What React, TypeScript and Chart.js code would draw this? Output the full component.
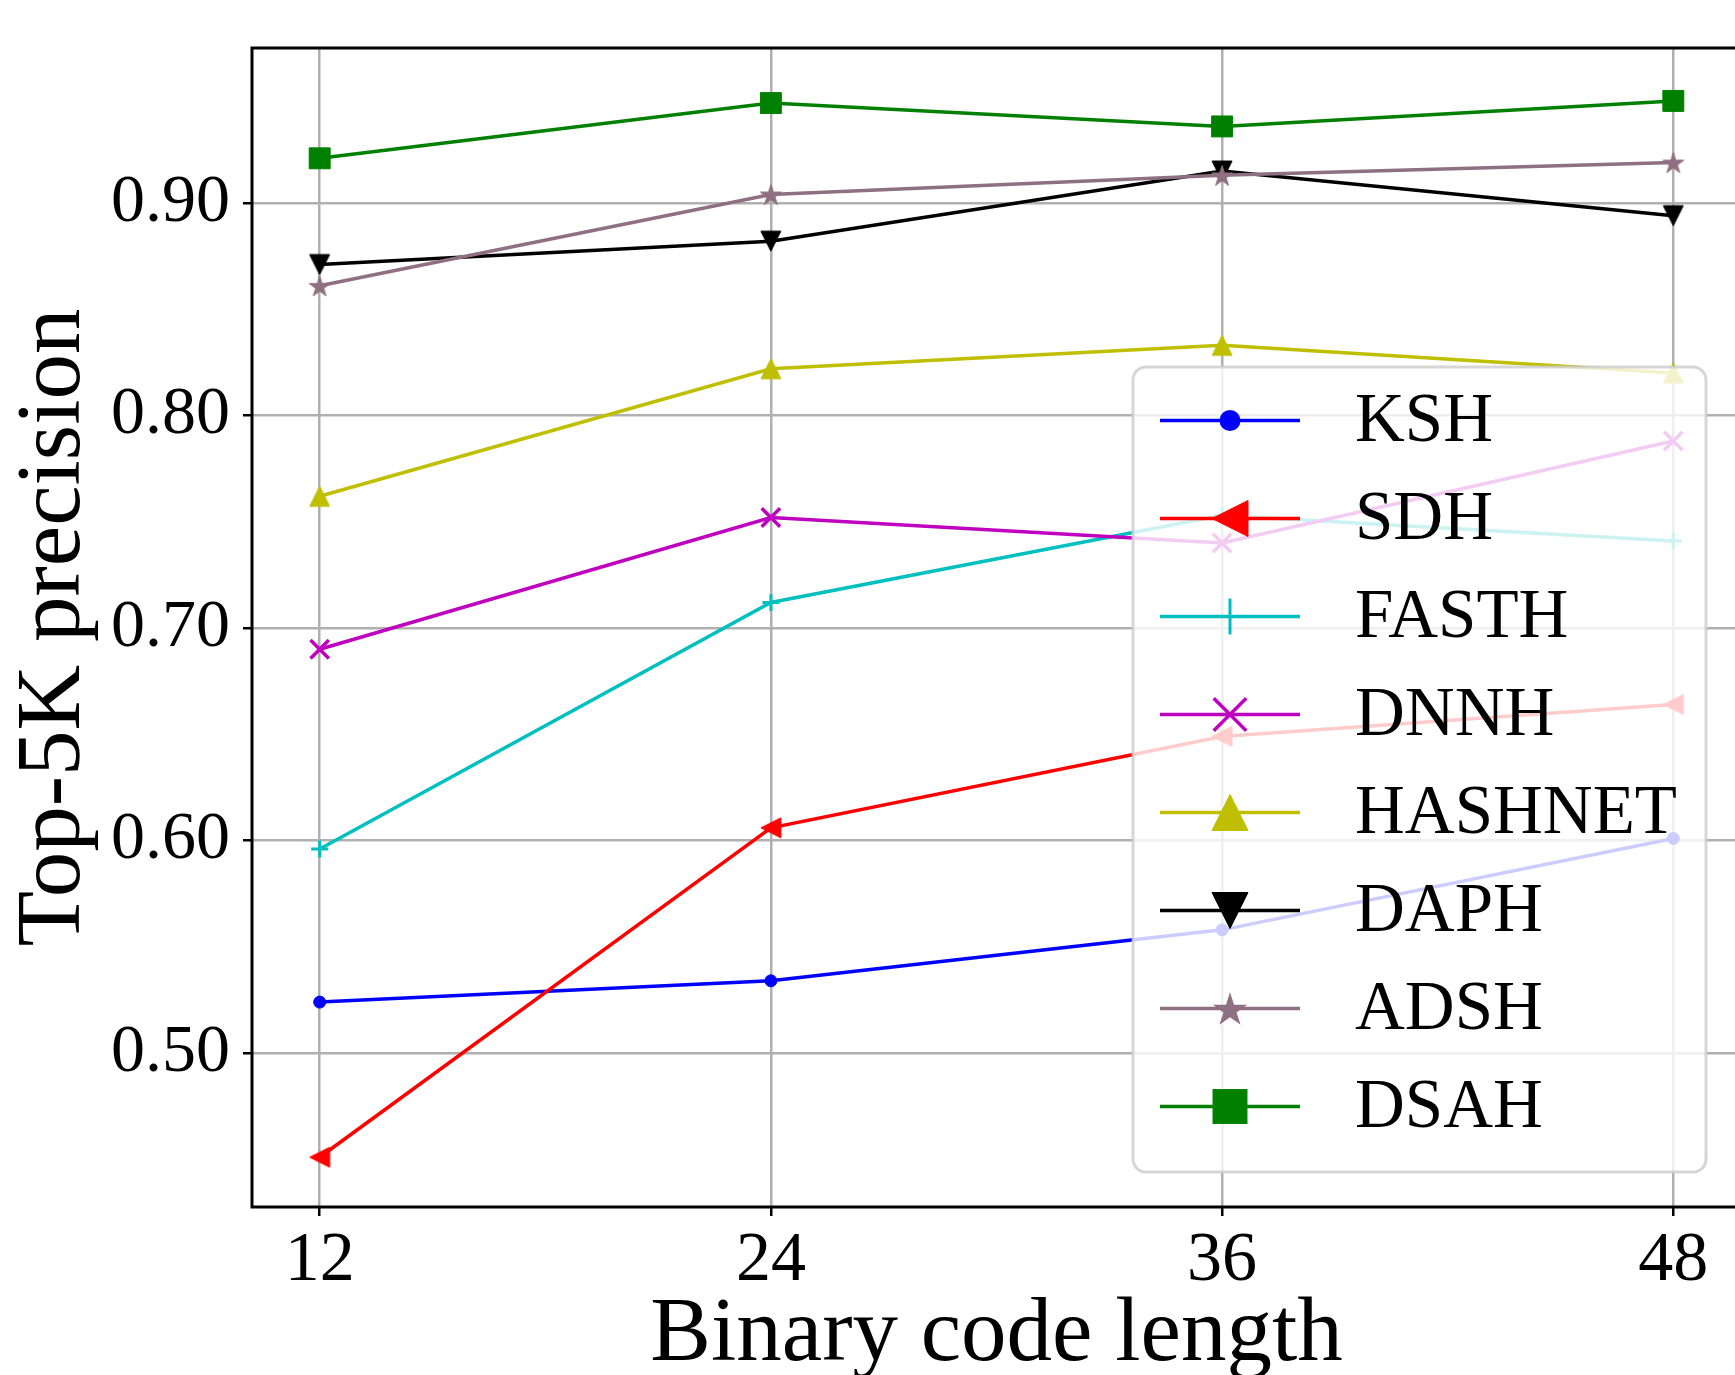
import React, { useEffect, useRef } from 'react';
import { Chart, registerables } from 'chart.js';

Chart.register(...registerables);

// ---- data ----
const codeLengths = [12, 24, 36, 48];
const xTickValues = [12, 24, 36, 48];
const yTickValues = [0.5, 0.6, 0.7, 0.8, 0.9];
const seriesNames = ['KSH', 'SDH', 'FASTH', 'DNNH', 'HASHNET', 'DAPH', 'ADSH', 'DSAH'];
const kshValues = [0.524, 0.534, 0.558, 0.601];
const sdhValues = [0.451, 0.606, 0.649, 0.664];
const fasthValues = [0.596, 0.712, 0.753, 0.741];
const dnnhValues = [0.690, 0.752, 0.740, 0.788];
const hashnetValues = [0.762, 0.822, 0.833, 0.820];
const daphValues = [0.871, 0.882, 0.915, 0.894];
const adshValues = [0.861, 0.904, 0.913, 0.919];
const dsahValues = [0.921, 0.947, 0.936, 0.948];
const seriesValues = [kshValues, sdhValues, fasthValues, dnnhValues, hashnetValues, daphValues, adshValues, dsahValues];

// ---- styles ----
const FONT = "'Liberation Serif', 'Times New Roman', Times, serif";
type Sty = { color: string; style: string; r: number; rot: number; bw: number; legendR: number };
const seriesStyles: Sty[] = [
  { color: '#0000ff', style: 'circle', r: 6, rot: 0, bw: 1, legendR: 10.5 },
  { color: '#ff0000', style: 'tri', r: 10, rot: 270, bw: 1, legendR: 18 },
  { color: '#00bfbf', style: 'cross', r: 8.5, rot: 0, bw: 3, legendR: 18 },
  { color: '#bf00bf', style: 'crossRot', r: 13, rot: 0, bw: 3.5, legendR: 23 },
  { color: '#bfbf00', style: 'tri', r: 10, rot: 0, bw: 1, legendR: 18 },
  { color: '#000000', style: 'tri', r: 10, rot: 180, bw: 1, legendR: 18 },
  { color: '#8f6f82', style: 'star5', r: 11, rot: 0, bw: 1, legendR: 18 },
  { color: '#008000', style: 'rect', r: 14.8, rot: 0, bw: 1, legendR: 24.7 },
];

function starPath(g: CanvasRenderingContext2D, x: number, y: number, R: number) {
  const inner = R * 0.381966;
  g.beginPath();
  for (let k = 0; k < 10; k++) {
    const rr = k % 2 === 0 ? R : inner;
    const a = -Math.PI / 2 + (k * Math.PI) / 5;
    const px = x + rr * Math.cos(a);
    const py = y + rr * Math.sin(a);
    if (k === 0) g.moveTo(px, py);
    else g.lineTo(px, py);
  }
  g.closePath();
}

// matplotlib-like triangle: bounding box centred on the point, pointing up before rotation
function triPath(g: CanvasRenderingContext2D, x: number, y: number, h: number, rotDeg: number) {
  const rad = (rotDeg * Math.PI) / 180;
  const pts = [
    [0, -h],
    [-h, h],
    [h, h],
  ];
  g.beginPath();
  pts.forEach(([px, py], k) => {
    const rx = x + px * Math.cos(rad) - py * Math.sin(rad);
    const ry = y + px * Math.sin(rad) + py * Math.cos(rad);
    if (k === 0) g.moveTo(rx, ry);
    else g.lineTo(rx, ry);
  });
  g.closePath();
}

function makeImage(s: Sty) {
  const size = Math.ceil(s.r * 2 + 6);
  const c = document.createElement('canvas');
  c.width = size;
  c.height = size;
  const g = c.getContext('2d')!;
  g.fillStyle = s.color;
  g.strokeStyle = s.color;
  g.lineWidth = 1;
  if (s.style === 'star5') {
    starPath(g, size / 2, size / 2 + s.r * 0.1, s.r);
  } else {
    triPath(g, size / 2, size / 2, s.r, 0);
  }
  g.fill();
  g.stroke();
  return c;
}

function drawMarker(ctx: CanvasRenderingContext2D, s: Sty, x: number, y: number, r: number) {
  ctx.save();
  ctx.fillStyle = s.color;
  ctx.strokeStyle = s.color;
  ctx.lineWidth = s.bw;
  let rad = (s.rot * Math.PI) / 180;
  if (s.style === 'circle') {
    ctx.beginPath();
    ctx.arc(x, y, r, 0, Math.PI * 2);
    ctx.fill();
  } else if (s.style === 'tri') {
    triPath(ctx, x, y, r, s.rot);
    ctx.fill();
    ctx.stroke();
  } else if (s.style === 'cross' || s.style === 'crossRot') {
    if (s.style === 'crossRot') rad += Math.PI / 4;
    const xo = Math.cos(rad) * r;
    const yo = Math.sin(rad) * r;
    ctx.beginPath();
    ctx.moveTo(x - xo, y - yo);
    ctx.lineTo(x + xo, y + yo);
    ctx.moveTo(x + yo, y - xo);
    ctx.lineTo(x - yo, y + xo);
    ctx.stroke();
  } else if (s.style === 'rect') {
    const h = r * Math.SQRT1_2;
    ctx.fillRect(x - h, y - h, 2 * h, 2 * h);
  } else if (s.style === 'star5') {
    starPath(ctx, x, y + r * 0.1, r);
    ctx.fill();
  }
  ctx.restore();
}

const frameAndLegend = {
  id: 'frameAndLegend',
  afterDraw(chart: any) {
    const ctx: CanvasRenderingContext2D = chart.ctx;
    const { left, top, right, bottom } = chart.chartArea;
    ctx.save();
    ctx.strokeStyle = '#000';
    ctx.lineWidth = 3;
    ctx.strokeRect(left, top, right - left, bottom - top);

    // legend box
    const bx = 1133, by = 367, bw = 573, bh = 805, rr = 13;
    ctx.beginPath();
    ctx.moveTo(bx + rr, by);
    ctx.lineTo(bx + bw - rr, by);
    ctx.arcTo(bx + bw, by, bx + bw, by + rr, rr);
    ctx.lineTo(bx + bw, by + bh - rr);
    ctx.arcTo(bx + bw, by + bh, bx + bw - rr, by + bh, rr);
    ctx.lineTo(bx + rr, by + bh);
    ctx.arcTo(bx, by + bh, bx, by + bh - rr, rr);
    ctx.lineTo(bx, by + rr);
    ctx.arcTo(bx, by, bx + rr, by, rr);
    ctx.closePath();
    ctx.fillStyle = 'rgba(255,255,255,0.8)';
    ctx.fill();
    ctx.strokeStyle = 'rgba(204,204,204,0.8)';
    ctx.lineWidth = 3;
    ctx.stroke();

    chart.data.datasets.forEach((ds: any, i: number) => {
      const s = seriesStyles[i];
      const y = 420.5 + i * 98;
      ctx.strokeStyle = s.color;
      ctx.lineWidth = 3.5;
      ctx.beginPath();
      ctx.moveTo(1160, y);
      ctx.lineTo(1300, y);
      ctx.stroke();
      drawMarker(ctx, s, 1230, y, s.legendR);
      ctx.fillStyle = '#000';
      ctx.font = `69px ${FONT}`;
      ctx.textAlign = 'left';
      ctx.textBaseline = 'middle';
      ctx.fillText(ds.label, 1355, y + 2);
    });
    ctx.restore();
  },
};

export default function App() {
  const ref = useRef<HTMLCanvasElement | null>(null);
  useEffect(() => {
    if (!ref.current) return;
    const datasets = seriesNames.map((name, i) => {
      const s = seriesStyles[i];
      const ps: any = s.style === 'star5' || s.style === 'tri' ? makeImage(s) : s.style;
      return {
        label: name,
        data: codeLengths.map((x, j) => ({ x, y: seriesValues[i][j] })),
        borderColor: s.color,
        backgroundColor: s.color,
        borderWidth: 3.5,
        pointStyle: ps,
        pointRadius: s.r,
        pointRotation: s.rot,
        pointBackgroundColor: s.color,
        pointBorderColor: s.color,
        pointBorderWidth: s.bw,
        tension: 0,
        fill: false,
        order: seriesNames.length - i,
      };
    });
    const chart = new Chart(ref.current, {
      type: 'line',
      data: { datasets },
      options: {
        animation: false,
        responsive: false,
        devicePixelRatio: 1,
        events: [],
        layout: { padding: { top: 48, right: 19, left: 0, bottom: 0 } },
        plugins: { legend: { display: false }, tooltip: { enabled: false } },
        scales: {
          x: {
            type: 'linear',
            min: 10.2,
            max: 49.8,
            afterBuildTicks: (axis: any) => {
              axis.ticks = xTickValues.map((v) => ({ value: v }));
            },
            afterFit: (scale: any) => {
              scale.height = 168;
            },
            ticks: {
              autoSkip: false,
              maxRotation: 0,
              padding: 4,
              color: '#000',
              font: { family: FONT, size: 70 },
              callback: (v: any) => String(v),
            },
            grid: { color: '#b0b0b0', lineWidth: 2.5, drawTicks: true, tickLength: 9, tickColor: '#000', tickWidth: 2.5 },
            border: { display: false },
            title: {
              display: true,
              text: 'Binary code length',
              color: '#000',
              font: { family: FONT, size: 91, lineHeight: 0.8 },
              padding: { top: 0, bottom: 3 },
            },
          },
          y: {
            type: 'linear',
            min: 0.4276,
            max: 0.9729,
            afterBuildTicks: (axis: any) => {
              axis.ticks = yTickValues.map((v) => ({ value: v }));
            },
            afterFit: (scale: any) => {
              scale.width = 252;
              scale.paddingTop = 0;
              scale.paddingBottom = 0;
            },
            ticks: {
              autoSkip: false,
              padding: 13,
              color: '#000',
              font: { family: FONT, size: 68 },
              callback: (v: any) => Number(v).toFixed(2),
            },
            grid: { color: '#b0b0b0', lineWidth: 2.5, drawTicks: true, tickLength: 9, tickColor: '#000', tickWidth: 2.5 },
            border: { display: false },
            title: {
              display: true,
              text: 'Top-5K precision',
              color: '#000',
              font: { family: FONT, size: 91, lineHeight: 1.2 },
              padding: { top: 0, bottom: 0 },
            },
          },
        },
      } as any,
      plugins: [frameAndLegend],
    });
    return () => chart.destroy();
  }, []);

  return (
    <div style={{ position: 'fixed', left: 0, top: 0, width: 1735, height: 1375, overflow: 'hidden', background: '#fff' }}>
      <canvas ref={ref} width={1760} height={1375} style={{ position: 'absolute', left: 0, top: 0, width: 1760, height: 1375 }} />
    </div>
  );
}
